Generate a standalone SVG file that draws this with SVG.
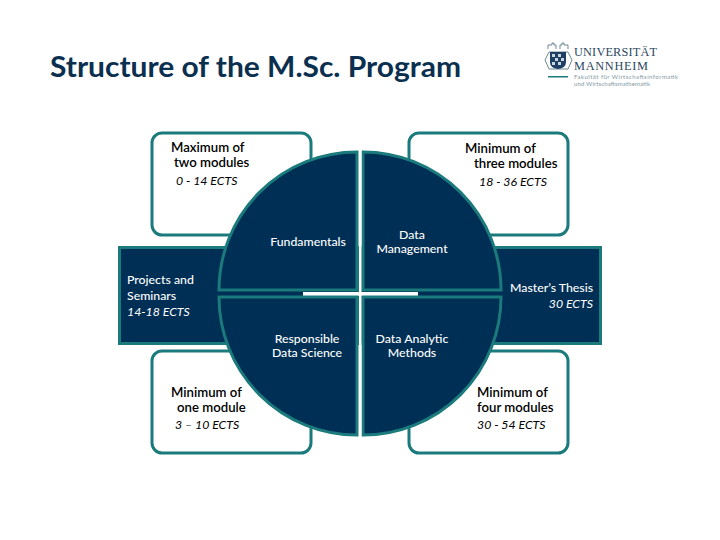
<svg xmlns="http://www.w3.org/2000/svg" width="720" height="540" viewBox="0 0 720 540">
<style>
.box{fill:#fff;stroke:#1a7a7c;stroke-width:3}
.band{fill:#002f55;stroke:#1a7a7c;stroke-width:3}
.q{fill:#002f55;stroke:#1a7a7c;stroke-width:3}
text{font-family:Lato,"Liberation Sans",sans-serif;font-size:12.300px}
.d{fill:#000;font-size:13.200px;font-weight:600}
.w{fill:#fff;font-weight:500}
.i{font-style:italic;font-weight:400;font-size:12.300px}
.m{text-anchor:middle}
.e{text-anchor:end}
.title{font-size:29px;font-weight:700;fill:#0b2f4f}
.lg{font-family:"Liberation Serif",serif;fill:#2a4660}
.ls{font-size:6px;fill:#7f98a3}
</style>
<rect width="720" height="540" fill="#fff"/>
<text class="title" x="50" y="77" textLength="411" lengthAdjust="spacingAndGlyphs">Structure of the M.Sc. Program</text>
<g id="logo">
<path d="M548 49v-4h4v-2h2v2h2v4M560 49v-4h2v-2h2v2h4v4" fill="none" stroke="#6f8794" stroke-width="1"/>
<path d="M545 60l4-8h19l4 8-4 9h-19z" fill="none" stroke="#6f8794" stroke-width="1"/>
<path d="M550 52h16v10q0 6-8 7q-8-1-8-7z" fill="#1e3f63"/>
<path d="M552 54h3v3h-3zM558 54h3v3h-3zM555 58h3v3h-3zM561 58h3v3h-3zM552 62h3v3h-3zM558 62h3v3h-3z" fill="#c9d5dc"/>
<rect x="548" y="76" width="20" height="1.500" fill="#1a7a7c"/>
<text class="lg" x="574" y="56" font-size="9.500" textLength="83">UNIVERSITÄT</text>
<text class="lg" x="574" y="69.500" font-size="10.500" textLength="74">MANNHEIM</text>
<text class="ls" x="574" y="78.500" textLength="104">Fakultät für Wirtschaftsinformatik</text>
<text class="ls" x="574" y="86" textLength="76">und Wirtschaftsmathematik</text>
</g>
<g id="connectors"></g>
<g id="box-top-left"><rect class="box" x="152" y="133" width="159" height="102" rx="10"/></g>
<g id="box-top-right"><rect class="box" x="409" y="133" width="159" height="102" rx="10"/></g>
<g id="box-bottom-left"><rect class="box" x="152" y="351" width="159" height="102" rx="10"/></g>
<g id="box-bottom-right"><rect class="box" x="409" y="351" width="159" height="102" rx="10"/></g>
<g id="band-left"><rect class="band" x="119.500" y="247.500" width="240" height="96"/></g>
<g id="band-right"><rect class="band" x="360" y="247.500" width="240.500" height="96"/></g>
<rect x="303" y="292" width="115" height="4" fill="#fff"/>
<g id="fundamentals"><path class="q" d="M357 152V290H219A138 138 0 0 1 357 152Z"/></g>
<g id="data-management"><path class="q" d="M363 152V290H501A138 138 0 0 0 363 152Z"/></g>
<g id="responsible"><path class="q" d="M357 435V297H219A138 138 0 0 0 357 435Z"/></g>
<g id="analytic"><path class="q" d="M363 435V297H501A138 138 0 0 1 363 435Z"/></g>
<rect x="359" y="150" width="2.500" height="287" fill="#fff"/>
<g id="labels">
<text class="d" x="171" y="152">Maximum of</text>
<text class="d" x="174" y="167">two modules</text>
<text class="d i" x="176" y="184.500">0 - 14 ECTS</text>
<text class="d" x="465" y="153">Minimum of</text>
<text class="d" x="474" y="168">three modules</text>
<text class="d i" x="479" y="185.500">18 - 36 ECTS</text>
<text class="d" x="171" y="397">Minimum of</text>
<text class="d" x="177" y="412">one module</text>
<text class="d i" x="175" y="428.500">3 – 10 ECTS</text>
<text class="d" x="477" y="397">Minimum of</text>
<text class="d" x="477" y="412">four modules</text>
<text class="d i" x="477" y="428.500">30 - 54 ECTS</text>
<text class="w" x="127" y="284">Projects and</text>
<text class="w" x="127" y="300">Seminars</text>
<text class="w i" x="127" y="316">14-18 ECTS</text>
<text class="w e" x="593" y="292">Master’s Thesis</text>
<text class="w i e" x="593" y="308">30 ECTS</text>
<text class="w m" x="308" y="246">Fundamentals</text>
<text class="w m" x="412" y="239">Data</text>
<text class="w m" x="412" y="253">Management</text>
<text class="w m" x="307" y="343">Responsible</text>
<text class="w m" x="307" y="357">Data Science</text>
<text class="w m" x="412" y="343">Data Analytic</text>
<text class="w m" x="412" y="357">Methods</text>
</g>
</svg>
